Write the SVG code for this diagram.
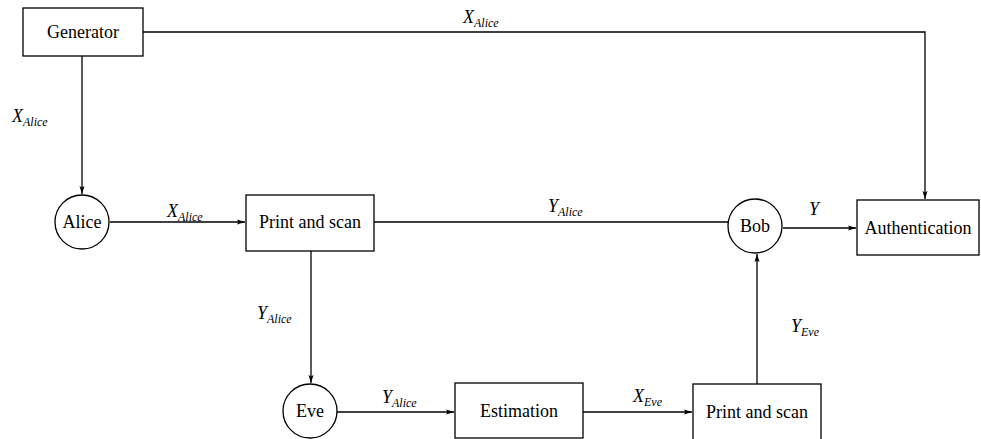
<svg xmlns="http://www.w3.org/2000/svg" width="981" height="439" viewBox="0 0 981 439">
<defs>
<marker id="ah" viewBox="0 0 8 6" refX="8" refY="3" markerWidth="8" markerHeight="6" markerUnits="userSpaceOnUse" orient="auto">
<path d="M0,0.5 L8,3 L0,5.5 L1.5,3 Z" fill="#000"/>
</marker>
<style>
.box{fill:#fff;stroke:#000;stroke-width:1.3}
.lbl{font-size:18px;fill:#000;text-anchor:middle}
.ml{font-size:18px;font-style:italic;fill:#000}
.sub{font-size:12px}
.c{fill:none;stroke:#000;stroke-width:1.3}
</style>
</defs>
<rect width="981" height="439" fill="#fff"/>
<g id="connectors" font-family="'Times New Roman', Tinos, 'Liberation Serif', 'DejaVu Serif', serif">
<path class="c" d="M143,32 H925 V199" marker-end="url(#ah)"/>
<path class="c" d="M82,56 V194" marker-end="url(#ah)"/>
<path class="c" d="M110,222 H245" marker-end="url(#ah)"/>
<path class="c" d="M374,222 H729"/>
<path class="c" d="M311,251 V383" marker-end="url(#ah)"/>
<path class="c" d="M337,412 H454" marker-end="url(#ah)"/>
<path class="c" d="M583,412 H692" marker-end="url(#ah)"/>
<path class="c" d="M757,384 V254" marker-end="url(#ah)"/>
<path class="c" d="M783,228 H856" marker-end="url(#ah)"/>
<text class="ml" x="463" y="23">X<tspan class="sub" dy="4">Alice</tspan></text>
<text class="ml" x="12" y="122">X<tspan class="sub" dy="4">Alice</tspan></text>
<text class="ml" x="167" y="217">X<tspan class="sub" dy="4">Alice</tspan></text>
<text class="ml" x="548" y="212">Y<tspan class="sub" dy="4">Alice</tspan></text>
<text class="ml" x="809" y="215" font-size="16">Y</text>
<text class="ml" x="257" y="319">Y<tspan class="sub" dy="4">Alice</tspan></text>
<text class="ml" x="382" y="403">Y<tspan class="sub" dy="4">Alice</tspan></text>
<text class="ml" x="633" y="402">X<tspan class="sub" dy="4">Eve</tspan></text>
<text class="ml" x="791" y="332">Y<tspan class="sub" dy="4">Eve</tspan></text>
</g>
<g font-family="'Times New Roman', Tinos, 'Liberation Serif', 'DejaVu Serif', serif">
<g id="generator"><rect class="box" x="23" y="8" width="120" height="48"/><text class="lbl" x="83" y="38">Generator</text></g>
<g id="alice"><circle class="box" cx="82" cy="222" r="27"/><text class="lbl" x="82" y="228">Alice</text></g>
<g id="print1"><rect class="box" x="246" y="195" width="128" height="56"/><text class="lbl" x="310" y="228">Print and scan</text></g>
<g id="bob"><circle class="box" cx="755" cy="226" r="27"/><text class="lbl" x="755" y="232">Bob</text></g>
<g id="auth"><rect class="box" x="857" y="200" width="122" height="55"/><text class="lbl" x="918" y="234">Authentication</text></g>
<g id="eve"><circle class="box" cx="310" cy="411" r="27"/><text class="lbl" x="310" y="417">Eve</text></g>
<g id="estimation"><rect class="box" x="455" y="383" width="128" height="55"/><text class="lbl" x="519" y="417">Estimation</text></g>
<g id="print2"><rect class="box" x="693" y="384" width="128" height="60"/><text class="lbl" x="757" y="418">Print and scan</text></g>
</g>
</svg>
